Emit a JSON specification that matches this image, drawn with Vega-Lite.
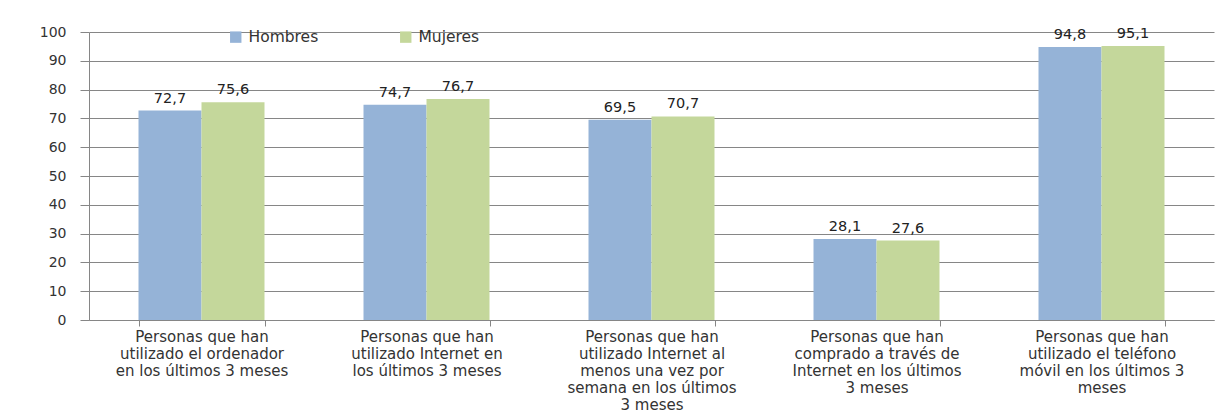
{
  "$schema": "https://vega.github.io/schema/vega-lite/v6.json",
  "width": 1125,
  "height": 288,
  "autosize": {"type": "none"},
  "padding": {"left": 89, "top": 32, "right": 14, "bottom": 96},
  "background": "white",
  "data": {
    "values": [
      {"cat": "Personas que han|utilizado el ordenador|en los últimos 3 meses", "sexo": "Hombres", "valor": 72.7, "etiqueta": "72,7"},
      {"cat": "Personas que han|utilizado el ordenador|en los últimos 3 meses", "sexo": "Mujeres", "valor": 75.6, "etiqueta": "75,6"},
      {"cat": "Personas que han|utilizado Internet en|los últimos 3 meses", "sexo": "Hombres", "valor": 74.7, "etiqueta": "74,7"},
      {"cat": "Personas que han|utilizado Internet en|los últimos 3 meses", "sexo": "Mujeres", "valor": 76.7, "etiqueta": "76,7"},
      {"cat": "Personas que han|utilizado Internet al|menos una vez por|semana en los últimos|3 meses", "sexo": "Hombres", "valor": 69.5, "etiqueta": "69,5"},
      {"cat": "Personas que han|utilizado Internet al|menos una vez por|semana en los últimos|3 meses", "sexo": "Mujeres", "valor": 70.7, "etiqueta": "70,7"},
      {"cat": "Personas que han|comprado a través de|Internet en los últimos|3 meses", "sexo": "Hombres", "valor": 28.1, "etiqueta": "28,1"},
      {"cat": "Personas que han|comprado a través de|Internet en los últimos|3 meses", "sexo": "Mujeres", "valor": 27.6, "etiqueta": "27,6"},
      {"cat": "Personas que han|utilizado el teléfono|móvil en los últimos 3|meses", "sexo": "Hombres", "valor": 94.8, "etiqueta": "94,8"},
      {"cat": "Personas que han|utilizado el teléfono|móvil en los últimos 3|meses", "sexo": "Mujeres", "valor": 95.1, "etiqueta": "95,1"}
    ]
  },
  "encoding": {
    "x": {
      "field": "cat",
      "type": "nominal",
      "sort": null,
      "title": null,
      "scale": {"paddingInner": 0.44, "paddingOuter": 0.22},
      "axis": {
        "labelExpr": "split(datum.label, '|')",
        "labelAngle": 0,
        "labelFont": "DejaVu Sans",
        "labelFontSize": 15,
        "labelColor": "#333333",
        "labelLineHeight": 17,
        "labelPadding": 3,
        "labelLimit": 0,
        "tickBand": "extent",
        "tickSize": 6,
        "tickColor": "#868686",
        "domainColor": "#868686",
        "grid": false
      }
    },
    "xOffset": {"field": "sexo", "type": "nominal"},
    "y": {
      "field": "valor",
      "type": "quantitative",
      "title": null,
      "scale": {"domain": [0, 100], "nice": false},
      "axis": {
        "values": [0, 10, 20, 30, 40, 50, 60, 70, 80, 90, 100],
        "labelFont": "DejaVu Sans",
        "labelFontSize": 14,
        "labelColor": "#333333",
        "labelPadding": 14,
        "tickSize": 9,
        "tickColor": "#868686",
        "domainColor": "#868686",
        "gridColor": "#868686",
        "grid": true
      }
    }
  },
  "layer": [
    {
      "mark": {"type": "bar"},
      "encoding": {
        "color": {
          "field": "sexo",
          "type": "nominal",
          "scale": {"domain": ["Hombres", "Mujeres"], "range": ["#95B3D7", "#C4D79B"]},
          "legend": {
            "title": null,
            "orient": "none",
            "legendX": 139,
            "legendY": -3,
            "direction": "horizontal",
            "symbolType": "square",
            "symbolSize": 130,
            "symbolStrokeWidth": 0,
            "labelFont": "DejaVu Sans",
            "labelFontSize": 15.5,
            "labelColor": "#333333",
            "columnPadding": 79,
            "labelOffset": 5
          }
        }
      }
    },
    {
      "mark": {"type": "text", "baseline": "bottom", "dy": -5, "font": "DejaVu Sans", "fontSize": 14.5, "color": "#222222"},
      "encoding": {
        "text": {"field": "etiqueta", "type": "nominal"}
      }
    }
  ],
  "config": {
    "view": {"stroke": null}
  }
}
